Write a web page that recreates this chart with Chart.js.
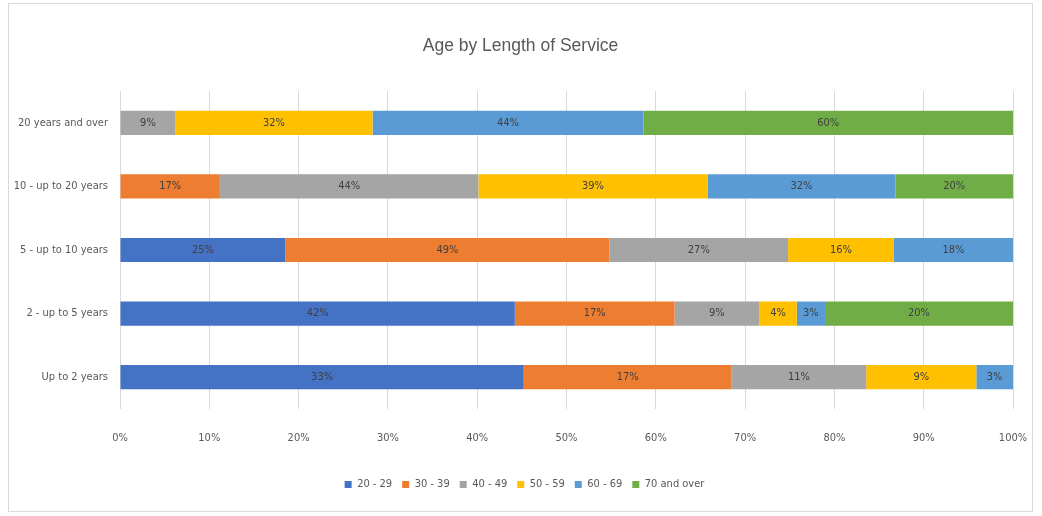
<!DOCTYPE html>
<html>
<head>
<meta charset="utf-8">
<script src="https://cdn.jsdelivr.net/npm/chart.js@4/dist/chart.umd.min.js"></script>
<style>
html,body{margin:0;padding:0;background:#fff;}
#wrap{position:relative;width:1042px;height:516px;}
</style>
</head>
<body>
<div id="wrap"><canvas id="c" width="1042" height="516"></canvas></div>
<script>
// Categories (top to bottom)
const categories = ["20 years and over", "10 - up to 20 years", "5 - up to 10 years", "2 - up to 5 years", "Up to 2 years"];
// Series labels
const seriesNames = ["20 - 29", "30 - 39", "40 - 49", "50 - 59", "60 - 69", "70 and over"];
// Values (as labelled, %), null = not present
const age20_29 = [null, null, 25, 42, 33];
const age30_39 = [null, 17, 49, 17, 17];
const age40_49 = [9, 44, 27, 9, 11];
const age50_59 = [32, 39, 16, 4, 9];
const age60_69 = [44, 32, 18, 3, 3];
const age70plus = [60, 20, null, 20, null];
// X tick labels
const xTicks = ["0%", "10%", "20%", "30%", "40%", "50%", "60%", "70%", "80%", "90%", "100%"];

const seriesValues = [age20_29, age30_39, age40_49, age50_59, age60_69, age70plus];
const colors = ["#4472C4", "#ED7D31", "#A5A5A5", "#FFC000", "#5B9BD5", "#70AD47"];

// Row totals for 100% stacking
const totals = categories.map((_, i) => seriesValues.reduce((s, arr) => s + (arr[i] || 0), 0));

const datasets = seriesValues.map((arr, k) => ({
  label: seriesNames[k],
  data: arr.map((v, i) => v == null ? null : v / totals[i] * 100),
  rawLabels: arr,
  backgroundColor: colors[k],
  borderWidth: 0,
  categoryPercentage: 1,
  barPercentage: 0.38
}));

const FONT = "'Liberation Sans Narrow', 'DejaVu Sans Condensed', 'Liberation Sans', sans-serif";

const frame = {
  id: 'frame',
  beforeDraw(chart) {
    const ctx = chart.ctx;
    ctx.save();
    ctx.fillStyle = '#ffffff';
    ctx.fillRect(0, 0, chart.width, chart.height);
    ctx.strokeStyle = '#d9d9d9';
    ctx.lineWidth = 1;
    ctx.strokeRect(8.5, 3.5, 1024, 508);
    ctx.restore();
  }
};

// center legend / title a bit to the right, like the original
const shiftBlocks = {
  id: 'shiftBlocks',
  afterLayout(chart) {
    if (chart.legend) { chart.legend.left += 18; chart.legend.right += 18; }
    if (chart.titleBlock) { chart.titleBlock.left += 14; chart.titleBlock.right += 14; }
  }
};

const barLabels = {
  id: 'barLabels',
  afterDatasetsDraw(chart) {
    const ctx = chart.ctx;
    ctx.save();
    ctx.font = "11px " + FONT;
    ctx.textAlign = 'center';
    ctx.textBaseline = 'middle';
    ctx.fillStyle = '#404040';
    chart.data.datasets.forEach((ds, di) => {
      const meta = chart.getDatasetMeta(di);
      meta.data.forEach((el, i) => {
        const v = ds.rawLabels[i];
        if (v == null) return;
        const p = el.getProps(['x', 'y', 'base'], true);
        ctx.fillText(v + '%', (p.x + p.base) / 2, p.y);
      });
    });
    ctx.restore();
  }
};

new Chart(document.getElementById('c'), {
  type: 'bar',
  data: { labels: categories, datasets },
  options: {
    indexAxis: 'y',
    responsive: false,
    animation: false,
    layout: { padding: { top: 15, right: 29, bottom: 16, left: 0 } },
    scales: {
      x: {
        stacked: true,
        min: 0, max: 100,
        ticks: {
          stepSize: 10,
          padding: 23,
          color: '#595959',
          font: { family: FONT, size: 11 },
          callback: (v, i) => xTicks[i]
        },
        grid: { color: '#d9d9d9', drawTicks: false },
        border: { display: false },
        afterFit(s) { s.height = 60; s.paddingLeft = 0; s.paddingRight = 0; }
      },
      y: {
        stacked: true,
        ticks: {
          padding: 12,
          color: '#595959',
          font: { family: FONT, size: 11 }
        },
        grid: { display: false, drawTicks: false },
        border: { display: false },
        afterFit(s) { s.width = 120; }
      }
    },
    plugins: {
      title: {
        display: true,
        text: 'Age by Length of Service',
        color: '#595959',
        font: { family: "'Liberation Sans', sans-serif", size: 17.5, weight: 'normal' },
        padding: { top: 21, bottom: 34 }
      },
      legend: {
        position: 'bottom',
        labels: {
          boxWidth: 7,
          boxHeight: 7,
          padding: 10,
          color: '#595959',
          font: { family: FONT, size: 11 }
        }
      },
      tooltip: { enabled: false }
    }
  },
  plugins: [frame, shiftBlocks, barLabels]
});
</script>
</body>
</html>
